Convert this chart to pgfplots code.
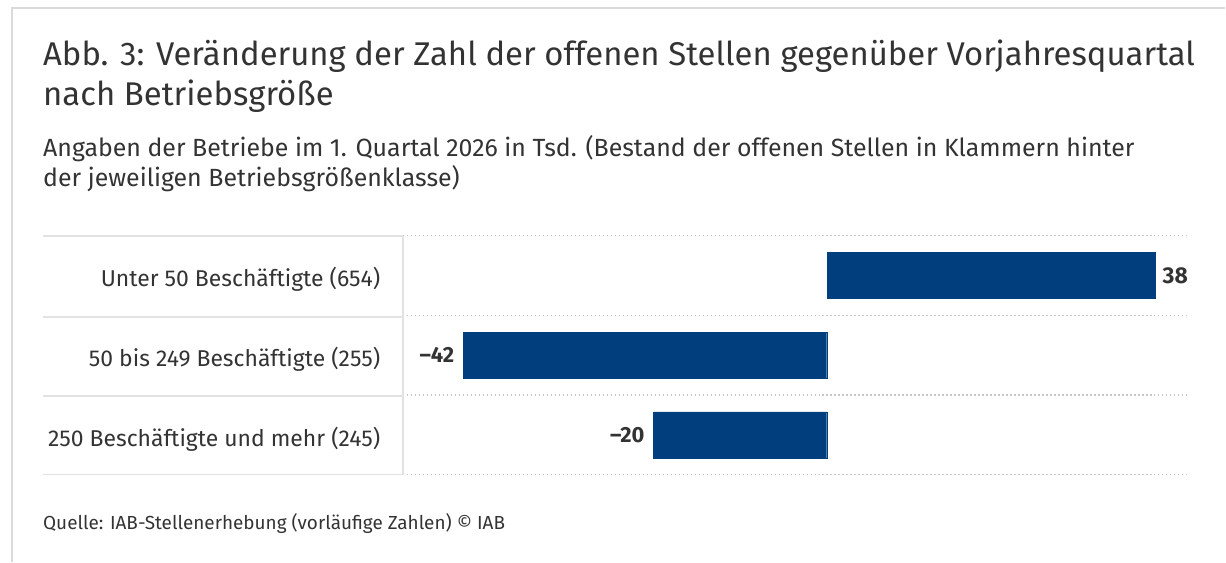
\documentclass[border=0pt]{standalone}
\usepackage{pgfplots}
\pgfplotsset{compat=1.18}
\usepackage{pgfplotstable}
\usetikzlibrary{calc}
\usepackage{fontspec}
\setmainfont{Fira Sans}
\definecolor{barblue}{HTML}{003E7E}
\definecolor{txt}{HTML}{333333}
\definecolor{framegray}{HTML}{DADADA}
\definecolor{panelgray}{HTML}{E2E2E2}
\pgfplotstableread[col sep=comma]{
y,x,label
2,38,38
}\postable
\pgfplotstableread[col sep=comma]{
y,x,label
1,-42,–42
0,-20,–20
}\negtable
\begin{document}
\begin{tikzpicture}[x=1bp,y=1bp]
\begin{axis}[
  name=ax,
  scale only axis, width=787bp, height=239bp,
  xbar, bar width=46bp, bar shift=0pt,
  xmin=-49, xmax=41.9, ymin=-0.5, ymax=2.5,
  axis line style={draw=none}, tick style={draw=none},
  xtick=\empty,
  ytick={0,1,2},
  yticklabels={250 Beschäftigte und mehr (245),50 bis 249 Beschäftigte (255),Unter 50 Beschäftigte (654)},
  yticklabel style={font=\fontsize{23}{27}\selectfont, text=txt, anchor=east, inner sep=0pt, yshift=-4bp},
  yticklabel shift=18bp,
  minor ytick={-0.5,0.5,1.5,2.5},
  yminorgrids,
  minor grid style={gray!45, line width=1.2bp, dash pattern=on 1.2bp off 2.8bp},
  nodes near coords={\pgfplotspointmeta},
  point meta=explicit symbolic,
]
\addplot[fill=barblue, draw=barblue,
  every node near coord/.append style={font=\bfseries\fontsize{23}{27}\selectfont, text=txt, inner sep=0pt, anchor=west, xshift=7bp}]
  table[x=x, y=y, meta=label] {\postable};
\addplot[fill=barblue, draw=barblue,
  every node near coord/.append style={font=\bfseries\fontsize{22}{26}\selectfont, text=txt, inner sep=0pt, anchor=east, xshift=-9bp}]
  table[x=x, y=y, meta=label] {\negtable};
\end{axis}
\begin{scope}[shift={($(ax.south west)+(-403,-87)$)}]
\path (0,0) rectangle (1226,562);
\draw[framegray, line width=1.5bp] (12,0) -- (12,554) -- (1226,554);
\node[anchor=base west, inner sep=0pt, font=\fontsize{33}{39}\selectfont, text=txt] at (43,496) {Abb. 3: Veränderung der Zahl der offenen Stellen gegenüber Vorjahresquartal};
\node[anchor=base west, inner sep=0pt, font=\fontsize{33}{39}\selectfont, text=txt] at (43,456) {nach Betriebsgröße};
\node[anchor=base west, inner sep=0pt, font=\fontsize{25}{30}\selectfont, text=txt] at (43,405) {Angaben der Betriebe im 1. Quartal 2026 in Tsd. (Bestand der offenen Stellen in Klammern hinter};
\node[anchor=base west, inner sep=0pt, font=\fontsize{25}{30}\selectfont, text=txt] at (43,375) {der jeweiligen Betriebsgrößenklasse)};
\node[anchor=base west, inner sep=0pt, font=\fontsize{19}{22}\selectfont, text=txt] at (43,32) {Quelle: IAB-Stellenerhebung (vorläufige Zahlen) © IAB};
\foreach \yy in {326,245,166,87} {\draw[panelgray, line width=1.5bp] (43,\yy) -- (403,\yy);}
\draw[panelgray, line width=1.5bp] (403,87) -- (403,326);
\end{scope}
\end{tikzpicture}
\end{document}
